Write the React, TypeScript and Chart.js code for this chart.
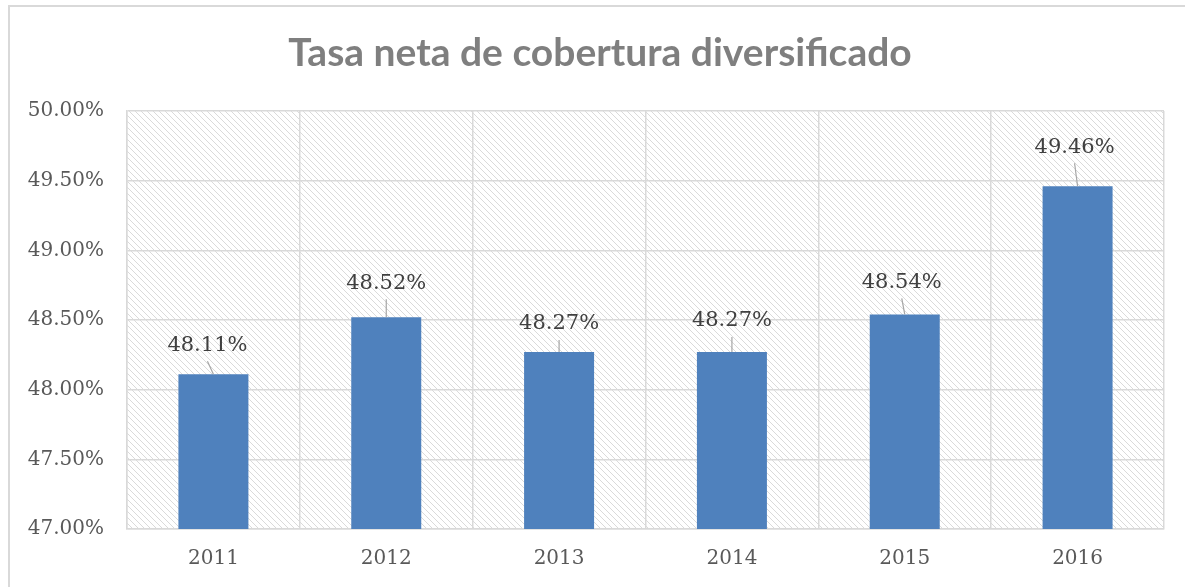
import React, { useEffect, useRef } from "react";
import { Chart, registerables } from "chart.js";

Chart.register(...registerables);

const TITLE = "Tasa neta de cobertura diversificado";
const YEARS = ["2011", "2012", "2013", "2014", "2015", "2016"];
const RATES = [48.11, 48.52, 48.27, 48.27, 48.54, 49.46];
const Y_MIN = 47;
const Y_MAX = 50;
const Y_STEP = 0.5;
// label placement offsets (px) relative to bar top centre
const LABEL_DX = [-6, 0, 0, 0, -3, -3];
const LABEL_DY = [-29, -34, -28, -31, -32, -39];

const BAR_COLOR = "#4F81BD";
const GRID_COLOR = "#d9d9d9";
const TICK_COLOR = "#595959";
const LABEL_COLOR = "#404040";
const SERIF = "'DejaVu Serif', serif";

function makePattern(ctx: CanvasRenderingContext2D) {
  const c = document.createElement("canvas");
  const s = 6;
  c.width = s;
  c.height = s;
  const p = c.getContext("2d")!;
  p.fillStyle = "#ffffff";
  p.fillRect(0, 0, s, s);
  p.fillStyle = "#dadada";
  for (let i = 0; i < s; i++) p.fillRect(i, i, 1, 1);
  return ctx.createPattern(c, "repeat")!;
}

const backgroundPlugin = {
  id: "hatchBg",
  beforeDraw(chart: any) {
    const { ctx, chartArea } = chart;
    ctx.save();
    ctx.fillStyle = "#ffffff";
    ctx.fillRect(0, 0, chart.width, chart.height);
    // outer frame
    ctx.strokeStyle = GRID_COLOR;
    ctx.lineWidth = 2;
    ctx.beginPath();
    ctx.moveTo(9, chart.height + 2);
    ctx.lineTo(9, 6);
    ctx.lineTo(chart.width + 2, 6);
    ctx.stroke();
    // plot hatch
    ctx.fillStyle = makePattern(ctx);
    ctx.fillRect(chartArea.left, chartArea.top, chartArea.right - chartArea.left, chartArea.bottom - chartArea.top);
    // title
    ctx.fillStyle = "#7f7f7f";
    ctx.font = "bold 39px Lato, 'Open Sans', sans-serif";
    ctx.textAlign = "center";
    ctx.textBaseline = "middle";
    ctx.fillText(TITLE, 600, 53);
    ctx.restore();
  },
  afterDatasetsDraw(chart: any) {
    const { ctx } = chart;
    const meta = chart.getDatasetMeta(0);
    ctx.save();
    ctx.font = `21px ${SERIF}`;
    ctx.textAlign = "center";
    ctx.textBaseline = "middle";
    meta.data.forEach((bar: any, i: number) => {
      const lx = bar.x + LABEL_DX[i];
      const ly = bar.y + LABEL_DY[i];
      const lineTop = ly + 16;
      if (bar.y - lineTop > 3) {
        ctx.strokeStyle = "#a6a6a6";
        ctx.lineWidth = 1.2;
        ctx.beginPath();
        ctx.moveTo(lx, lineTop);
        ctx.lineTo(bar.x, bar.y);
        ctx.stroke();
      }
      ctx.fillStyle = LABEL_COLOR;
      ctx.fillText(RATES[i].toFixed(2) + "%", lx, ly);
    });
    ctx.restore();
  },
};

export default function App() {
  const ref = useRef<HTMLCanvasElement>(null);
  useEffect(() => {
    const chart = new Chart(ref.current!, {
      type: "bar",
      data: {
        labels: YEARS,
        datasets: [
          {
            data: RATES,
            backgroundColor: BAR_COLOR,
            borderWidth: 0,
            categoryPercentage: 1,
            barPercentage: 0.405,
          },
        ],
      },
      plugins: [backgroundPlugin],
      options: {
        responsive: false,
        animation: false,
        layout: { padding: { top: 111, right: 21, bottom: 0, left: 0 } },
        plugins: {
          legend: { display: false },
          tooltip: { enabled: false },
          title: { display: false },
        },
        scales: {
          x: {
            grid: { color: GRID_COLOR, lineWidth: 1.5, drawTicks: false, offset: true },
            border: { color: GRID_COLOR, width: 1.5 },
            ticks: { color: TICK_COLOR, font: { family: SERIF, size: 20 }, padding: 18 },
            afterFit(scale: any) {
              scale.height = 58;
            },
          },
          y: {
            min: Y_MIN,
            max: Y_MAX,
            grid: { color: GRID_COLOR, lineWidth: 1.5, drawTicks: false },
            border: { color: GRID_COLOR, width: 1.5 },
            ticks: {
              stepSize: Y_STEP,
              color: TICK_COLOR,
              font: { family: SERIF, size: 20 },
              padding: 23,
              callback: (v: any) => Number(v).toFixed(2) + "%",
            },
            afterFit(scale: any) {
              scale.width = 127;
            },
          },
        },
      },
    } as any);
    return () => chart.destroy();
  }, []);
  return (
    <div style={{ position: "absolute", left: 0, top: 0, width: 1185, height: 587 }}>
      <canvas ref={ref} width={1185} height={587} />
    </div>
  );
}
